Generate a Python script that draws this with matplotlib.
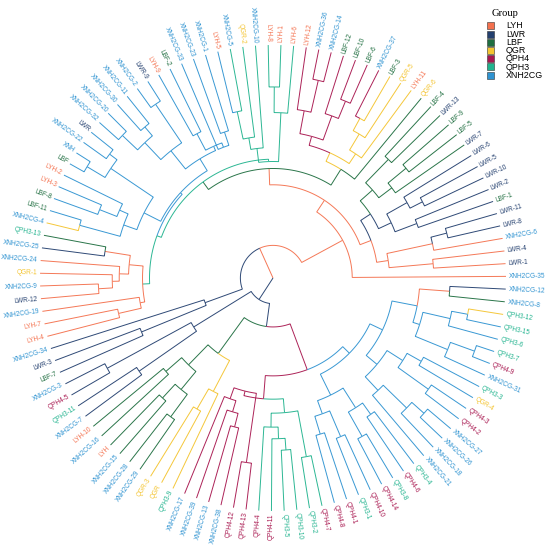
import re
import numpy as np
import matplotlib.pyplot as plt
from matplotlib.patches import Rectangle

groups = ["LYH", "LWR", "LBF", "QGR", "QPH4", "QPH3", "XNH2CG"]
group_colors = ["#F4714E", "#24406F", "#1F6E40", "#F4C430", "#A8174F", "#21B38E", "#2F93D1"]
branch_codes = ["Y", "W", "B", "G", "P", "T", "X"]

# tree: leaves in anticlockwise order, ":h" = node height (fraction of leaf radius), "#c" = branch colour
tree_text = """
(
 (
  (
   XNH2CG-35#Y,
   (
    (
     ((LWR-1,LWR-4):0.69,(XNH2CG-6,(LWR-8#W,LWR-11#W):0.77#W):0.70):0.50#Y,
     (
      ((LBF-1,LWR-2):0.66,((LWR-10,LWR-5):0.72,LWR-6):0.66):0.56#W,
      ((LWR-7,(LBF-5,LBF-9):0.74):0.64,(LWR-13,LBF-4):0.71):0.57#B
     ):0.50#W
    ):0.45#Y,
    (
     (
      QGR-6,
      (
       (LYH-11,(QGR-5,(LBF-3,XNH2CG-37#P):0.78):0.72):0.64#G,
       (((LBF-6,LBF-10):0.82,LBF-12):0.74,((XNH2CG-14,XNH2CG-36):0.87,LYH-12):0.73):0.63#P
      ):0.59#G
     ):0.55#B,
     (
      (
       (LYH-6,(LYH-1,LYH-8):0.82):0.71,
       (XNH2CG-10,(QGR-2,(XNH2CG-5,LYH-5#X):0.73):0.61):0.56
      ):0.50#T,
      (
       (
        (
         (((XNH2CG-1,XNH2CG-23):0.66,XNH2CG-33):0.60,(LBF-2,LYH-9):0.70):0.62,
         ((LWR-9,XNH2CG-2):0.90,((XNH2CG-11,XNH2CG-30):0.85,(XNH2CG-20,XNH2CG-32):0.89):0.80):0.70
        ):0.60,
        (
         ((LWR,XNH2CG-22):0.88,(XNH,LBF):0.93):0.84,
         ((LYH-2,(LYH-3,LBF-8):0.80):0.72,(LBF-11,XNH2CG-4#G):0.86):0.68
        ):0.62
       ):0.54#X,
       (
        ((QPH3-13#B,XNH2CG-25#W):0.73,(XNH2CG-24,(QGR-1,(XNH2CG-9,LWR-12):0.75):0.69):0.66):0.62#Y,
        (XNH2CG-19,(LYH-7,LYH-4):0.68):0.58#Y
       ):0.56#T
      ):0.53#T
     ):0.51#B
    ):0.47#Y
   ):0.40#Y
  ):0.34#Y,
  (XNH2CG-34,(LWR-3,LBF-7):0.61):0.31#W
 ):0.14#Y,
 (
  ((XNH2CG-3,QPH4-5):0.81,(QPH3-11,XNH2CG-7):0.70):0.40#W,
  (
   (
    ((LYH-10,XNH2CG-16):0.61,((LYH,XNH2CG-15):0.70,(XNH2CG-28,XNH2CG-29):0.74):0.62):0.52#B,
    ((QGR-3,QGR):0.65,QPH3-9):0.55#G
   ):0.40#B,
   (
    (
     ((XNH2CG-17,(XNH2CG-39,(XNH2CG-13,XNH2CG-38):0.66):0.60):0.55,(QPH4-12,QPH4-13):0.80):0.50#P,
     ((QPH4-4,(QPH4-11,(QPH3-5,QPH3-10):0.74):0.69):0.64,(QPH3-2,QPH4-7):0.78):0.58#T
    ):0.52#P,
    (
     (((QPH4-8,QPH4-1):0.70,(QPH3-1,QPH4-10):0.74):0.62,((QPH4-14,QPH3-8):0.78,(QPH4-6,QPH3-4):0.72):0.66):0.56#X,
     (
      ((XNH2CG-21,(XNH2CG-18,(XNH2CG-26,XNH2CG-27):0.87):0.80):0.66,((QPH4-2,QPH4-3):0.82,(QGR-4,QPH3-3):0.73):0.66):0.58#X,
      (
       ((XNH2CG-31,(QPH4-9,QPH3-7):0.92):0.81,(QPH3-6,(QPH3-15,QPH3-12#G):0.85):0.78):0.66#X,
       (XNH2CG-8#B,XNH2CG-12#W):0.76#Y
      ):0.63#X
     ):0.52#X
    ):0.46#X
   ):0.42#P
  ):0.21#W
 ):0.11#W
):0.0
"""


def parse(s, i=0):
    if s[i] == "(":
        kids = []
        i += 1
        while True:
            node, i = parse(s, i)
            kids.append(node)
            ch = s[i]
            i += 1
            if ch == ")":
                break
        m = re.match(r":([\d.]+)(?:#(\w))?", s[i:])
        return {"kids": kids, "r": float(m.group(1)), "c": m.group(2)}, i + m.end()
    m = re.match(r"([^,():#]+)(?:#(\w))?", s[i:])
    return {"name": m.group(1), "kids": [], "r": 1.0, "c": m.group(2)}, i + m.end()


root, _ = parse("".join(tree_text.split()))

leaves = []
def collect(n):
    if not n["kids"]:
        leaves.append(n)
    for k in n["kids"]:
        collect(k)
collect(root)

start_angle = 0.4
step = 360.0 / len(leaves)
for i, lf in enumerate(leaves):
    lf["a"] = start_angle + i * step

def set_angle(n):
    if n["kids"]:
        n["a"] = np.mean([set_angle(k) for k in n["kids"]])
    return n["a"]
set_angle(root)

code_color = dict(zip(branch_codes, group_colors))

def group_of(name):
    for g in ["XNH2CG", "QPH3", "QPH4", "QGR", "LBF", "LWR", "LYH"]:
        if name.startswith(g[:4] if g.startswith("QPH") else g[:3]):
            return g
    return "XNH2CG"

fig = plt.figure(figsize=(5.5, 5.48), dpi=100)
ax = fig.add_axes([0, 0, 1, 1])
ax.set_xlim(0, 550)
ax.set_ylim(0, 548)
ax.axis("off")

cx, cy, R = 273, 270, 233

def xy(r, a):
    t = np.deg2rad(a)
    return cx + R * r * np.cos(t), cy + R * r * np.sin(t)

def draw(n, parent=None, col="Y"):
    c = n["c"] or col
    if parent is not None:
        arc = np.linspace(parent["a"], n["a"], 40)
        px, py = xy(parent["r"], arc)
        ex, ey = xy(n["r"], n["a"])
        ax.plot(np.append(px, ex), np.append(py, ey), color=code_color[c],
                lw=0.7, alpha=0.95, solid_capstyle="butt", solid_joinstyle="miter")
    for k in n["kids"]:
        draw(k, n, c)
draw(root)

for lf in leaves:
    a = lf["a"]
    x, y = xy(1.012, a)
    flip = 90 < a < 270
    g = group_of(lf["name"])
    ax.text(x, y, lf["name"], rotation=a + 180 if flip else a,
            rotation_mode="anchor", ha="right" if flip else "left", va="center",
            fontsize=4.7, family="Liberation Sans",
            color=group_colors[groups.index(g)])

# legend
ax.text(492, 534, "Group", fontsize=7.6, family="Liberation Serif", va="center", ha="left")
for i, (g, c) in enumerate(zip(groups, group_colors)):
    yy = 522 - i * 8.2
    ax.add_patch(Rectangle((486.5, yy - 3.4), 7, 7, facecolor=c, edgecolor="#333333", lw=0.4))
    ax.text(506, yy, g, fontsize=6.4, family="Liberation Sans", va="center", ha="left")

fig.savefig("out.png", dpi=100)
